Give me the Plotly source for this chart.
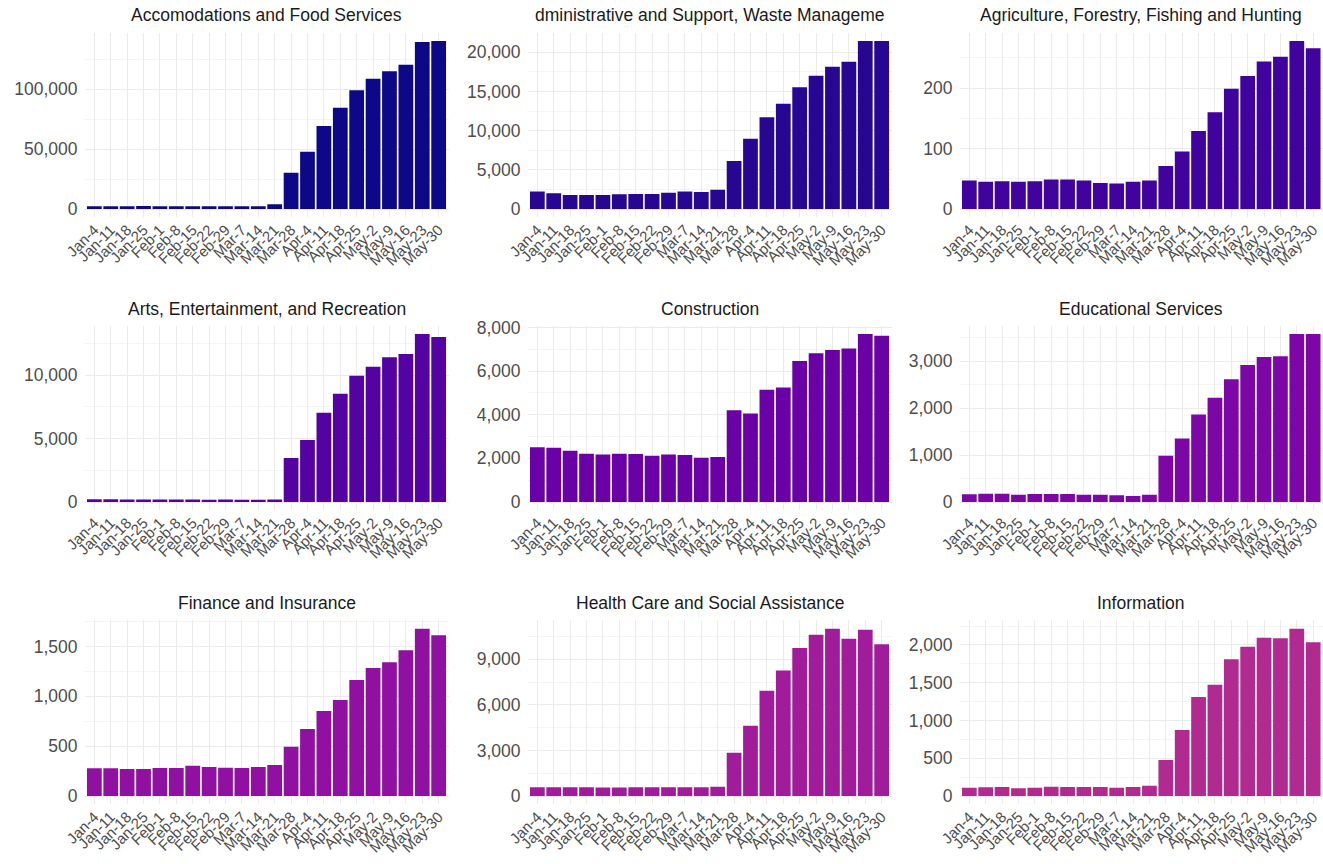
import plotly.graph_objects as go
from plotly.colors import sample_colorscale

# Weekly new claims by industry, Jan 4 - May 30
weeks = ["Jan-4", "Jan-11", "Jan-18", "Jan-25", "Feb-1", "Feb-8", "Feb-15", "Feb-22",
         "Feb-29", "Mar-7", "Mar-14", "Mar-21", "Mar-28", "Apr-4", "Apr-11", "Apr-18",
         "Apr-25", "May-2", "May-9", "May-16", "May-23", "May-30"]

industries = [
    "Accomodations and Food Services",
    "dministrative and Support, Waste Manageme",
    "Agriculture, Forestry, Fishing and Hunting",
    "Arts, Entertainment, and Recreation",
    "Construction",
    "Educational Services",
    "Finance and Insurance",
    "Health Care and Social Assistance",
    "Information",
]

accommodation_food = [2300, 2200, 2300, 2400, 2200, 2200, 2300, 2200, 2300, 2200, 2300, 4000,
                      30300, 47800, 69200, 84400, 98900, 108600, 114700, 120300, 139200, 140000]
admin_support = [2250, 2000, 1790, 1790, 1790, 1870, 1910, 1910, 2080, 2250, 2170, 2470,
                 6130, 8980, 11700, 13450, 15530, 17020, 18170, 18810, 21450, 21450]
agriculture = [47, 45, 46, 45, 46, 49, 49, 47, 43, 42, 45, 47,
               71, 95, 129, 160, 199, 220, 244, 252, 278, 266]
arts_recreation = [210, 210, 200, 200, 190, 190, 200, 170, 200, 170, 170, 200,
                   3470, 4890, 7050, 8550, 9970, 10680, 11420, 11680, 13260, 13030]
construction = [2515, 2485, 2350, 2210, 2180, 2210, 2195, 2120, 2180, 2150, 2030, 2060,
                4210, 4055, 5150, 5245, 6460, 6815, 6970, 7040, 7700, 7620]
educational = [163, 177, 177, 156, 170, 170, 170, 156, 156, 142, 128, 156,
               985, 1355, 1865, 2220, 2617, 2922, 3092, 3106, 3580, 3580]
finance_insurance = [278, 278, 271, 271, 281, 281, 304, 291, 284, 281, 291, 311,
                     495, 672, 853, 963, 1164, 1284, 1341, 1462, 1679, 1612]
health_social = [570, 580, 580, 570, 560, 560, 580, 580, 580, 570, 570, 610,
                 2850, 4620, 6920, 8250, 9740, 10610, 11010, 10350, 10940, 9980]
information = [110, 115, 119, 102, 110, 124, 119, 119, 119, 110, 119, 137,
               477, 874, 1311, 1475, 1810, 1978, 2097, 2088, 2216, 2035]

series = [accommodation_food, admin_support, agriculture, arts_recreation, construction,
          educational, finance_insurance, health_social, information]
y_steps = [50000, 5000, 100, 5000, 2000, 1000, 500, 3000, 500]

W, H = 1323, 864
FONT = "Liberation Sans, Arial, sans-serif"
colors = sample_colorscale("Plasma", [i * 0.05 for i in range(9)])

# panel geometry in pixels: (left, right) per column, (top, bottom) per row
cols_px = [(84.5, 448.5), (527.5, 891.5), (959.5, 1323.0)]
rows_px = [(32.6, 217.4), (325.6, 510.4), (620.3, 804.4)]
title_y_px = [15, 309, 603]

fig = go.Figure()
annotations = []
for i, (name, vals) in enumerate(zip(industries, series)):
    r, c = divmod(i, 3)
    k = "" if i == 0 else str(i + 1)
    fig.add_trace(go.Bar(
        x=weeks, y=vals, xaxis="x" + k, yaxis="y" + k,
        marker=dict(color=colors[i], line=dict(width=0)),
        showlegend=False,
    ))
    x0, x1 = cols_px[c]
    t, b = rows_px[r]
    vmax = max(vals)
    pad = vmax * 0.05
    fig.layout["xaxis" + k] = dict(
        domain=[x0 / W, x1 / W], anchor="y" + k, type="category",
        range=[-0.6, len(weeks) - 0.4], tickangle=-45,
        tickmode="array", tickvals=weeks, ticktext=weeks,
        tickfont=dict(family=FONT, size=15, color="#4d4d4d"),
        showgrid=True, gridcolor="#ebebeb", gridwidth=1,
        showline=False, zeroline=False, ticks="", automargin=False,
    )
    fig.layout["yaxis" + k] = dict(
        domain=[1 - b / H, 1 - t / H], anchor="x" + k,
        range=[-pad, vmax + pad], dtick=y_steps[i], tick0=0, tickformat=",",
        tickfont=dict(family=FONT, size=17.5, color="#4d4d4d"),
        showgrid=True, gridcolor="#ebebeb", gridwidth=1,
        minor=dict(dtick=y_steps[i] / 2, showgrid=True, gridcolor="#f4f4f4", gridwidth=1),
        showline=False, zeroline=False, ticks="", ticklabelstandoff=6, automargin=False,
    )
    annotations.append(dict(
        text=name, x=(x0 + x1) / 2 / W, y=1 - title_y_px[r] / H,
        xref="paper", yref="paper", xanchor="center", yanchor="middle",
        showarrow=False, font=dict(family=FONT, size=17.5, color="#1a1a1a"),
    ))

fig.update_layout(
    width=W, height=H, margin=dict(l=0, r=0, t=0, b=0),
    paper_bgcolor="white", plot_bgcolor="white",
    bargap=0.1, annotations=annotations,
)

fig.write_html("out.html")
